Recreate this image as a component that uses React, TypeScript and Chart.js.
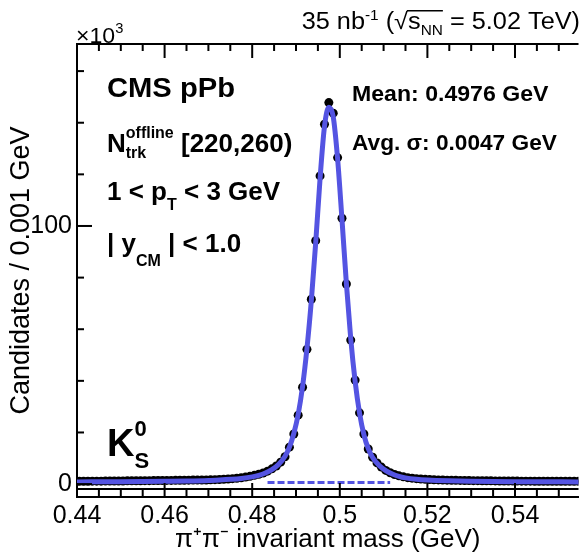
import React, { useEffect, useRef } from 'react';
import { Chart, registerables } from 'chart.js';

Chart.register(...registerables);

const FONT = "'Liberation Sans', Arial, Helvetica, sans-serif";
const BLUE = 'rgb(84, 84, 226)';

// Bin centres (GeV) and candidates per bin (x10^3)
const MASS = [
  0.4405, 0.4415, 0.4425, 0.4435, 0.4445, 0.4455, 0.4465, 0.4475, 0.4485, 0.4495,
  0.4505, 0.4515, 0.4525, 0.4535, 0.4545, 0.4555, 0.4565, 0.4575, 0.4585, 0.4595,
  0.4605, 0.4615, 0.4625, 0.4635, 0.4645, 0.4655, 0.4665, 0.4675, 0.4685, 0.4695,
  0.4705, 0.4715, 0.4725, 0.4735, 0.4745, 0.4755, 0.4765, 0.4775, 0.4785, 0.4795,
  0.4805, 0.4815, 0.4825, 0.4835, 0.4845, 0.4855, 0.4865, 0.4875, 0.4885, 0.4895,
  0.4905, 0.4915, 0.4925, 0.4935, 0.4945, 0.4955, 0.4965, 0.4975, 0.4985, 0.4995,
  0.5005, 0.5015, 0.5025, 0.5035, 0.5045, 0.5055, 0.5065, 0.5075, 0.5085, 0.5095,
  0.5105, 0.5115, 0.5125, 0.5135, 0.5145, 0.5155, 0.5165, 0.5175, 0.5185, 0.5195,
  0.5205, 0.5215, 0.5225, 0.5235, 0.5245, 0.5255, 0.5265, 0.5275, 0.5285, 0.5295,
  0.5305, 0.5315, 0.5325, 0.5335, 0.5345, 0.5355, 0.5365, 0.5375, 0.5385, 0.5395,
  0.5405, 0.5415, 0.5425, 0.5435, 0.5445, 0.5455, 0.5465, 0.5475, 0.5485, 0.5495,
  0.5505, 0.5515, 0.5525, 0.5535, 0.5545,
];
const COUNTS = [
  1.10, 1.12, 1.10, 1.14, 1.15, 1.13, 1.18, 1.17, 1.20, 1.22,
  1.21, 1.25, 1.27, 1.26, 1.30, 1.32, 1.34, 1.36, 1.38, 1.40,
  1.42, 1.44, 1.46, 1.48, 1.50, 1.52, 1.54, 1.56, 1.58, 1.60,
  1.66, 1.72, 1.80, 1.88, 1.98, 2.10, 2.25, 2.45, 2.70, 3.00,
  3.40, 3.80, 4.30, 5.00, 5.90, 7.00, 8.50, 10.6, 14.3, 19.4,
  26.7, 37.5, 52.2, 71.6, 94.3, 119.4, 139.4, 147.8, 143.7, 126.5,
  103.0, 77.5, 55.8, 40.3, 27.6, 19.4, 13.6, 10.4, 8.2, 6.6,
  5.3, 4.4, 3.7, 3.2, 2.8, 2.5, 2.3, 2.1, 1.95, 1.85,
  1.75, 1.68, 1.62, 1.57, 1.52, 1.48, 1.45, 1.42, 1.39, 1.36,
  1.34, 1.32, 1.30, 1.28, 1.26, 1.24, 1.22, 1.21, 1.19, 1.18,
  1.16, 1.15, 1.14, 1.13, 1.12, 1.11, 1.10, 1.10, 1.09, 1.09,
  1.08, 1.08, 1.07, 1.07, 1.06,
];

// Fit curve (x10^3)
const FIT_MASS = [
  0.44, 0.45, 0.46, 0.465, 0.47, 0.4725, 0.475, 0.4775, 0.48, 0.4815,
  0.483, 0.4845, 0.486, 0.4875, 0.4885, 0.4895, 0.4905, 0.4915, 0.4925, 0.4935,
  0.4945, 0.4955, 0.4965, 0.4975, 0.4985, 0.4995, 0.5005, 0.5015, 0.5025, 0.5035,
  0.5045, 0.5055, 0.5065, 0.5075, 0.509, 0.5105, 0.512, 0.5135, 0.515, 0.5175,
  0.52, 0.525, 0.53, 0.54, 0.555,
];
const FIT_VALUES = [
  0.85, 0.95, 1.1, 1.2, 1.4, 1.6, 1.85, 2.2, 2.8, 3.4,
  4.3, 5.6, 7.6, 10.8, 14.3, 19.6, 27.0, 37.8, 52.5, 71.0,
  93.5, 118.5, 138.5, 146.0, 142.3, 126.0, 102.5, 77.8, 56.3, 39.8,
  27.6, 19.2, 13.7, 10.3, 7.2, 5.2, 3.9, 3.0, 2.4, 1.85,
  1.55, 1.25, 1.1, 0.95, 0.85,
];

// Background under the peak (dashed)
const BKG_MASS = [0.4835, 0.5115];
const BKG_VALUES = [0.6, 0.6];

const X_MAJOR = [0.44, 0.46, 0.48, 0.5, 0.52, 0.54];
const X_MINOR = [0.445, 0.45, 0.455, 0.465, 0.47, 0.475, 0.485, 0.49, 0.495, 0.505, 0.51, 0.515, 0.525, 0.53, 0.535, 0.545, 0.55];
const X_LABELS = ['0.44', '0.46', '0.48', '0.5', '0.52', '0.54'];
const Y_MAJOR = [0, 100];
const Y_MINOR = [20, 40, 60, 80, 120, 140, 160];
const X_MIN = 0.44;
const X_MAX = 0.5545;
const Y_MIN = -5;
const Y_MAX = 170.5;
const INNER_LINE_Y = -1.9;

type Seg = { t: string; size: number; bold?: boolean; dy?: number; keep?: boolean; over?: boolean };

function drawRich(ctx: CanvasRenderingContext2D, segs: Seg[], x: number, y: number, align: 'left' | 'right' = 'left', sx = 1) {
  const fontOf = (s: Seg) => `${s.bold ? 'bold ' : ''}${s.size}px ${FONT}`;
  let cx = 0;
  let pending = 0;
  const items: { s: Seg; x: number; w: number }[] = [];
  for (const s of segs) {
    ctx.font = fontOf(s);
    const w = ctx.measureText(s.t).width * sx;
    items.push({ s, x: cx, w });
    if (s.keep) pending = Math.max(pending, w);
    else {
      cx += Math.max(w, pending);
      pending = 0;
    }
  }
  const x0 = align === 'right' ? x - cx : x;
  ctx.textBaseline = 'alphabetic';
  ctx.textAlign = 'left';
  for (const it of items) {
    ctx.save();
    ctx.font = fontOf(it.s);
    ctx.translate(x0 + it.x, y + (it.s.dy || 0));
    ctx.scale(sx, 1);
    ctx.fillText(it.s.t, 0, 0);
    ctx.restore();
  }
  const over = items.filter((it) => it.s.over);
  if (over.length) {
    const a = x0 + over[0].x;
    const b = x0 + over[over.length - 1].x + over[over.length - 1].w;
    ctx.fillRect(a - 1, y - 19, b - a + 1, 1.5);
  }
}

const framePlugin = {
  id: 'rootFrame',
  afterDraw(chart: any) {
    const ctx: CanvasRenderingContext2D = chart.ctx;
    const a = chart.chartArea;
    const x = chart.scales.x;
    const y = chart.scales.y;
    ctx.save();
    ctx.fillStyle = '#000000';
    ctx.fillRect(a.left - 1, a.top - 1, a.right - a.left + 1, 2);
    const yi = y.getPixelForValue(INNER_LINE_Y);
    ctx.fillRect(a.left, yi - 1, a.right - a.left, 2);
    for (const v of X_MAJOR) {
      const p = x.getPixelForValue(v);
      ctx.fillRect(p - 1, a.bottom - 14, 2, 14);
      ctx.fillRect(p - 1, a.top, 2, 14);
    }
    for (const v of X_MINOR) {
      const p = x.getPixelForValue(v);
      ctx.fillRect(p - 1, a.bottom - 8, 2, 8);
      ctx.fillRect(p - 1, a.top, 2, 7);
    }
    for (const v of Y_MAJOR) {
      const p = y.getPixelForValue(v);
      ctx.fillRect(a.left, p - 1, 15, 2);
    }
    for (const v of Y_MINOR) {
      const p = y.getPixelForValue(v);
      ctx.fillRect(a.left, p - 1, 7, 2);
    }

    drawRich(ctx, [{ t: '×10', size: 22 }, { t: '3', size: 14, dy: -10 }], 76, 43, 'left', 1.05);
    drawRich(
      ctx,
      [
        { t: '35 nb', size: 23 },
        { t: '-1', size: 14, dy: -9 },
        { t: ' (', size: 23 },
        { t: '√', size: 23 },
        { t: 's', size: 23, over: true },
        { t: 'NN', size: 14, dy: 6, over: true },
        { t: ' = 5.02 TeV)', size: 23 },
      ],
      580,
      29,
      'right',
      1.1,
    );
    const L = 107;
    drawRich(ctx, [{ t: 'CMS pPb', size: 27, bold: true }], L, 97, 'left', 1.08);
    drawRich(
      ctx,
      [
        { t: 'N', size: 26, bold: true },
        { t: 'offline', size: 16, bold: true, dy: -14, keep: true },
        { t: 'trk', size: 16, bold: true, dy: 6 },
        { t: ' [220,260)', size: 26, bold: true },
      ],
      L,
      152,
    );
    drawRich(
      ctx,
      [
        { t: '1 < p', size: 26, bold: true },
        { t: 'T', size: 16, bold: true, dy: 10 },
        { t: ' < 3 GeV', size: 26, bold: true },
      ],
      L,
      200,
    );
    drawRich(
      ctx,
      [
        { t: '| y', size: 26, bold: true },
        { t: 'CM', size: 16, bold: true, dy: 14 },
        { t: ' | < 1.0', size: 26, bold: true },
      ],
      L,
      252,
    );
    drawRich(ctx, [{ t: 'Mean: 0.4976 GeV', size: 22, bold: true }], 352, 101, 'left', 1.05);
    drawRich(ctx, [{ t: 'Avg. σ: 0.0047 GeV', size: 22, bold: true }], 352, 150, 'left', 1.03);
    drawRich(
      ctx,
      [
        { t: 'K', size: 38, bold: true },
        { t: '0', size: 22, bold: true, dy: -20, keep: true },
        { t: 'S', size: 22, bold: true, dy: 12 },
      ],
      L,
      456,
    );
    ctx.restore();
  },
};

export default function App() {
  const ref = useRef<HTMLCanvasElement>(null);
  useEffect(() => {
    if (!ref.current) return;
    const dataPts = MASS.map((m, i) => ({ x: m, y: COUNTS[i] }));
    const fitPts = FIT_MASS.map((m, i) => ({ x: m, y: FIT_VALUES[i] }));
    const bkgPts = BKG_MASS.map((m, i) => ({ x: m, y: BKG_VALUES[i] }));
    const chart = new Chart(ref.current, {
      type: 'line',
      data: {
        datasets: [
          {
            label: 'data',
            data: dataPts,
            showLine: false,
            pointRadius: 4.5,
            pointBackgroundColor: '#000',
            pointBorderColor: '#000',
            pointBorderWidth: 0,
            order: 3,
          },
          {
            label: 'background',
            data: bkgPts,
            borderColor: BLUE,
            borderWidth: 3,
            borderDash: [7, 3],
            pointRadius: 0,
            order: 2,
          },
          {
            label: 'fit',
            data: fitPts,
            borderColor: BLUE,
            borderWidth: 5,
            pointRadius: 0,
            cubicInterpolationMode: 'monotone',
            order: 1,
          },
        ],
      } as any,
      options: {
        responsive: false,
        animation: false,
        layout: { padding: { top: 44, right: 0, bottom: 0, left: 0 } },
        plugins: { legend: { display: false }, tooltip: { enabled: false } },
        scales: {
          x: {
            type: 'linear',
            min: X_MIN,
            max: X_MAX,
            afterBuildTicks: (s: any) => {
              s.ticks = X_MAJOR.map((v) => ({ value: v }));
            },
            afterFit: (s: any) => {
              s.height = 60;
            },
            ticks: {
              font: { family: FONT, size: 25 },
              color: '#000',
              padding: 4,
              maxRotation: 0,
              autoSkip: false,
              callback: (v: any) => {
                const i = X_MAJOR.findIndex((m) => Math.abs(m - Number(v)) < 1e-6);
                return i >= 0 ? X_LABELS[i] : '';
              },
            },
            grid: { display: false, drawTicks: false },
            border: { display: true, color: '#000', width: 2 },
            title: {
              display: true,
              text: 'π⁺π⁻ invariant mass (GeV)',
              font: { family: FONT, size: 26 },
              color: '#000',
              padding: { top: 0, bottom: 2 },
            },
          },
          y: {
            type: 'linear',
            min: Y_MIN,
            max: Y_MAX,
            afterBuildTicks: (s: any) => {
              s.ticks = Y_MAJOR.map((v) => ({ value: v }));
            },
            afterFit: (s: any) => {
              s.width = 77;
            },
            ticks: {
              font: { family: FONT, size: 25 },
              color: '#000',
              padding: 5,
              autoSkip: false,
              callback: (v: any) => String(v),
            },
            grid: { display: false, drawTicks: false },
            border: { display: true, color: '#000', width: 2 },
            title: {
              display: true,
              text: 'Candidates / 0.001 GeV',
              font: { family: FONT, size: 27 },
              color: '#000',
              padding: { top: 5, bottom: 0 },
            },
          },
        },
      } as any,
      plugins: [framePlugin],
    });
    return () => chart.destroy();
  }, []);
  return (
    <div style={{ position: 'absolute', left: 0, top: 0, width: 583, height: 557, background: '#fff' }}>
      <canvas ref={ref} width={583} height={557} style={{ display: 'block' }} />
    </div>
  );
}
